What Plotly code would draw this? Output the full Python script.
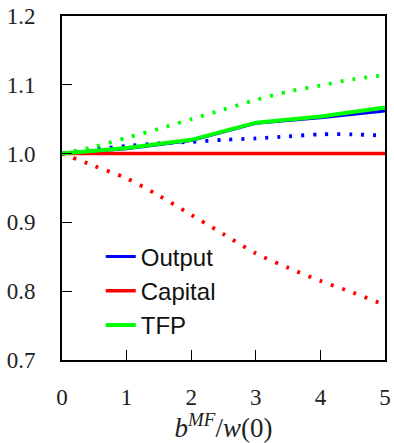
import plotly.graph_objects as go

# Data
x_solid = [0, 1, 2, 3, 4, 5]
output_solid = [1.0, 1.007, 1.019, 1.044, 1.052, 1.062]
capital_solid = [1.0, 1.0, 1.0, 1.0, 1.0, 1.0]
tfp_solid = [1.0, 1.008, 1.020, 1.045, 1.054, 1.067]

x_dotted = [0, 0.5, 1, 1.5, 2, 2.5, 3, 3.5, 4, 4.5, 5]
output_dotted = [1.0, 1.006, 1.011, 1.015, 1.017, 1.020, 1.022, 1.025, 1.028, 1.028, 1.026]
capital_dotted = [1.0, 0.982, 0.964, 0.939, 0.911, 0.883, 0.855, 0.834, 0.815, 0.798, 0.780]
tfp_dotted = [1.0, 1.010, 1.023, 1.036, 1.050, 1.064, 1.078, 1.090, 1.099, 1.108, 1.114]

x_ticks = [0, 1, 2, 3, 4, 5]
y_ticks = [0.7, 0.8, 0.9, 1.0, 1.1, 1.2]

BLUE = "#0000ff"
RED = "#ff0000"
GREEN = "#00ff00"
DOT = "3px,9px"

fig = go.Figure()

for y, c in [(output_dotted, BLUE), (capital_dotted, RED), (tfp_dotted, GREEN)]:
    fig.add_trace(go.Scatter(x=x_dotted, y=y, mode="lines", showlegend=False,
                             line=dict(color=c, width=3.8, dash=DOT, shape="spline", smoothing=0.8)))

fig.add_trace(go.Scatter(x=x_solid, y=output_solid, mode="lines", name="Output",
                         line=dict(color=BLUE, width=3), legendrank=1))
fig.add_trace(go.Scatter(x=x_solid, y=capital_solid, mode="lines", name="Capital",
                         line=dict(color=RED, width=3.5), legendrank=2))
fig.add_trace(go.Scatter(x=x_solid, y=tfp_solid, mode="lines", name="TFP",
                         line=dict(color=GREEN, width=4), legendrank=3))

axis_common = dict(showgrid=False, zeroline=False, showline=True, linecolor="black",
                   linewidth=2, mirror=True, ticks="inside", ticklen=10, tickwidth=1.3,
                   tickcolor="black", automargin=False, ticklabeloverflow="allow")

fig.update_xaxes(range=[0, 5], tickvals=x_ticks, ticktext=[str(v) for v in x_ticks],
                 ticklabelstandoff=15,
                 tickfont=dict(family="Liberation Serif, serif", size=23, color="#222"),
                 title=dict(text="<i>b</i><sup><i>MF</i></sup>/<i>w</i>(0)",
                            font=dict(family="Liberation Serif, serif", size=27, color="#222"),
                            standoff=3),
                 **axis_common)
fig.update_yaxes(range=[0.7, 1.2], tickvals=y_ticks, ticktext=[f"{v:.1f}" for v in y_ticks],
                 ticklabelstandoff=20,
                 tickfont=dict(family="Liberation Serif, serif", size=23, color="#222"),
                 **axis_common)

fig.update_layout(
    width=394, height=443,
    margin=dict(l=62, r=9, t=16, b=83),
    plot_bgcolor="white", paper_bgcolor="white",
    showlegend=True,
    legend=dict(x=0.12, y=0.365, xanchor="left", yanchor="top",
                bgcolor="rgba(0,0,0,0)", borderwidth=0,
                font=dict(family="Liberation Sans, Arial, sans-serif", size=24, color="#111"),
                tracegroupgap=0),
)

# Remove the browser's default 8px body margin so the figure fills the window
fig.write_html("out.html", config={"displayModeBar": False},
               post_script="document.body.style.margin='0px';")
